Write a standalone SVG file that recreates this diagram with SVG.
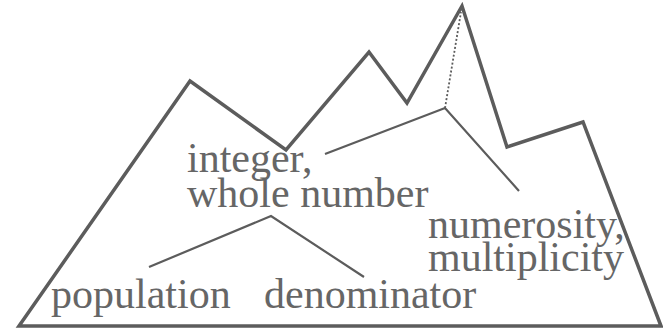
<svg xmlns="http://www.w3.org/2000/svg" width="663" height="332" viewBox="0 0 663 332">
<style>
.outline{fill:none;stroke:#5c5c5c;stroke-width:3.5;stroke-linejoin:miter;stroke-miterlimit:10}
.conn{fill:none;stroke:#5c5c5c;stroke-width:2.2}
.dot{fill:none;stroke:#5c5c5c;stroke-width:1.8;stroke-dasharray:2,2}
.lbl{font-family:"Liberation Serif","Times New Roman",serif;font-size:42px;fill:#666666}
</style>
<rect width="663" height="332" fill="#ffffff"/>
<g id="mountain">
<polygon class="outline" points="19,326 190,81 286,150 369,52 407,103 462,6 507,147 583,122 661,326"/>
</g>
<g id="connectors">
<polyline class="conn" points="325,154 445,108 519,191"/>
<line class="dot" x1="445" y1="108" x2="461" y2="12"/>
<polyline class="conn" points="149,267 271,216 364,277"/>
</g>
<g id="integer"><text class="lbl" x="187" y="172">integer,</text><text class="lbl" x="187" y="207">whole number</text></g>
<g id="numerosity"><text class="lbl" x="428" y="238">numerosity,</text><text class="lbl" x="428" y="271">multiplicity</text></g>
<g id="population"><text class="lbl" x="51" y="308">population</text></g>
<g id="denominator"><text class="lbl" x="264" y="308">denominator</text></g>
</svg>
